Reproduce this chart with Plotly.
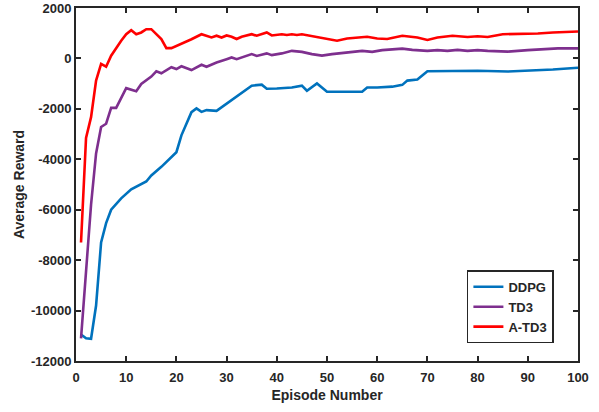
import plotly.graph_objects as go

ddpg_x = [1, 2, 3, 4, 5, 6, 7, 9, 11, 14, 15, 17, 20, 21, 23, 24, 25, 26, 28, 35, 37, 38, 40, 43, 45, 46, 48, 50, 53, 57, 58, 60, 63, 65, 66, 68, 70, 75, 80, 86, 90, 95, 100]
ddpg_y = [-10950, -11100, -11120, -9800, -7300, -6530, -6000, -5550, -5190, -4880, -4640, -4300, -3720, -3050, -2130, -1980, -2120, -2050, -2080, -1080, -1040, -1200, -1190, -1150, -1080, -1280, -990, -1320, -1320, -1320, -1150, -1150, -1120, -1050, -880, -840, -510, -490, -490, -520, -490, -440, -370]

td3_x = [1, 3, 4, 5, 6, 7, 8, 10, 12, 13, 15, 16, 17, 19, 20, 21, 23, 25, 26, 28, 30, 31, 32, 35, 36, 38, 39, 41, 43, 45, 47, 49, 51, 54, 57, 59, 61, 65, 67, 70, 72, 74, 76, 78, 80, 82, 86, 90, 93, 96, 100]
td3_y = [-11100, -5800, -3770, -2720, -2590, -1960, -1960, -1180, -1300, -1010, -720, -510, -590, -350, -420, -310, -460, -250, -330, -160, -30, 40, -30, 170, 100, 200, 130, 200, 300, 260, 170, 110, 170, 230, 300, 260, 330, 390, 340, 300, 330, 300, 340, 300, 330, 300, 270, 330, 370, 400, 400]

atd3_x = [1, 2, 3, 4, 5, 6, 7, 8, 9, 10, 11, 12, 13, 14, 15, 17, 18, 19, 21, 23, 25, 26, 27, 28, 29, 30, 31, 32, 33, 35, 36, 38, 39, 41, 42, 43, 44, 45, 48, 50, 52, 54, 56, 58, 60, 62, 65, 68, 70, 72, 75, 78, 80, 82, 85, 88, 92, 95, 98, 100]
atd3_y = [-7300, -3150, -2330, -880, -220, -330, 110, 430, 700, 960, 1120, 960, 1030, 1160, 1160, 770, 410, 410, 570, 760, 960, 900, 830, 900, 830, 910, 860, 770, 860, 960, 900, 1030, 910, 960, 930, 960, 930, 960, 860, 770, 700, 790, 830, 860, 790, 770, 900, 830, 730, 830, 900, 850, 880, 850, 960, 960, 990, 1030, 1070, 1070]

x_ticks = [0, 10, 20, 30, 40, 50, 60, 70, 80, 90, 100]
y_ticks = [-12000, -10000, -8000, -6000, -4000, -2000, 0, 2000]

series = [
    ("DDPG", ddpg_x, ddpg_y, "#0072BD"),
    ("TD3", td3_x, td3_y, "#7E2F8E"),
    ("A-TD3", atd3_x, atd3_y, "#FF0000"),
]

fig = go.Figure()
for name, xs, ys, col in series:
    fig.add_trace(go.Scatter(x=xs, y=ys, mode="lines", name=f"<b>{name}</b>",
                             line=dict(color=col, width=2.6)))

axis_common = dict(
    showgrid=False, zeroline=False, automargin=False,
    showline=True, linecolor="#262626", linewidth=2,
    mirror="ticks", ticks="inside", ticklen=5, tickwidth=1.5, tickcolor="#262626",
    tickfont=dict(family="Liberation Sans, Arial", size=13, color="#262626"),
)

fig.update_layout(
    width=599, height=412,
    margin=dict(l=76, r=21, t=8, b=51),
    paper_bgcolor="white", plot_bgcolor="white",
    font=dict(family="Liberation Sans, Arial", color="#262626"),
    xaxis=dict(range=[0, 100], tickvals=x_ticks,
               ticktext=[f"<b>{v}</b>" for v in x_ticks],
               ticklabelstandoff=3,
               title=dict(text="<b>Episode Number</b>", font=dict(size=14), standoff=7),
               **axis_common),
    yaxis=dict(range=[-12000, 2000], tickvals=y_ticks,
               ticktext=[f"<b>{v}</b>" for v in y_ticks],
               title=dict(text="<b>Average Reward</b>", font=dict(size=14), standoff=3),
               **axis_common),
    legend=dict(x=0.952, y=0.05, xanchor="right", yanchor="bottom",
                bordercolor="#262626", borderwidth=1.5, bgcolor="white",
                font=dict(size=13, color="#262626"),
                tracegroupgap=0, itemwidth=30),
    showlegend=True,
)

fig.write_html("out.html")
